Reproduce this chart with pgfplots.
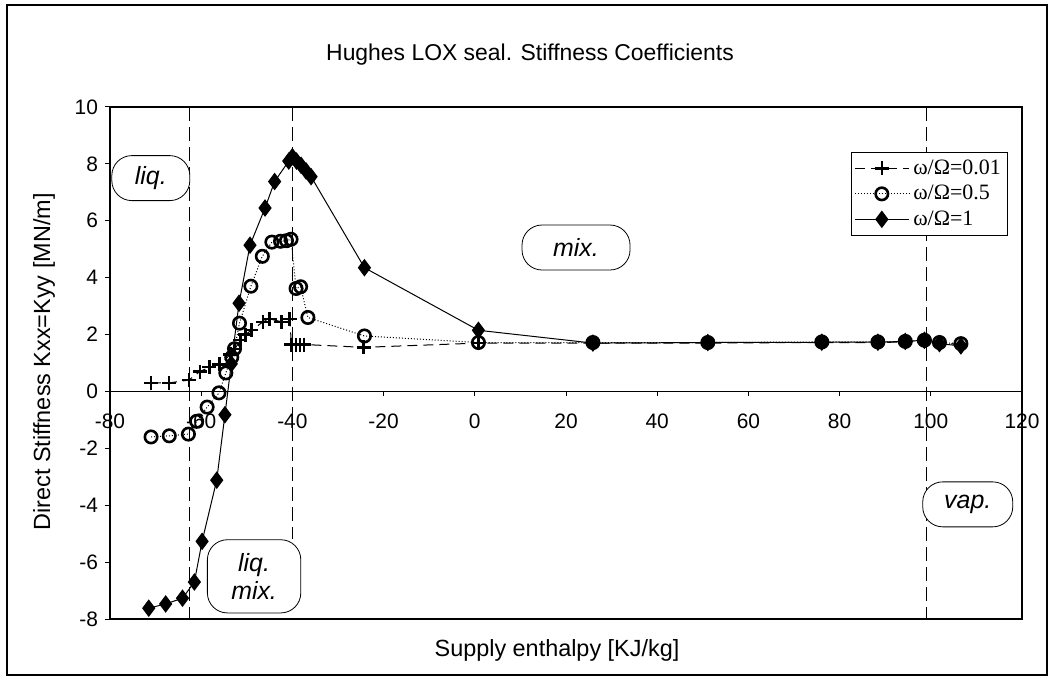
\documentclass[border=0pt]{standalone}
\usepackage{fontspec}
\setmainfont{Liberation Sans}
\newfontfamily\legfont{Liberation Serif}
\usepackage{pgfplots}
\pgfplotsset{compat=1.18}

\begin{document}
\begin{tikzpicture}
\begin{axis}[
  at={(0,0)}, anchor=south west,
  scale only axis, width=456bp, height=256bp,
  xmin=-80, xmax=120, ymin=-8, ymax=10,
  xtick={-80,-60,...,120}, ytick={-8,-6,...,10},
  axis x line*=middle, axis y line*=left,
  hide obscured x ticks=false, hide obscured y ticks=false,
  tick align=outside, major tick length=2.5bp,
  tick style={black, line width=0.5bp},
  axis line style={line width=0.6bp},
  /pgf/number format/assume math mode=true,
  ticklabel style={font=\fontsize{10.5}{12}\selectfont},
  xticklabel style={yshift=-5bp},
  clip=false,
  legend style={at={(rel axis cs:0.985,0.912)}, anchor=north east,
    draw=black, line width=0.5bp, fill=white,
    font=\legfont\fontsize{11}{11.5}\selectfont,
    inner sep=1.5bp, row sep=0pt},
  legend cell align=left,
  legend image code/.code={\draw[mark repeat=2,mark phase=2,#1]
    plot coordinates {(0bp,0bp) (13.5bp,0bp) (27bp,0bp)};},
]
\coordinate (O) at (rel axis cs:0,0);

% region boundaries
\draw[line width=0.5bp, dash pattern=on 7bp off 3bp] (axis cs:-62.5,10) -- (axis cs:-62.5,-8);
\draw[line width=0.5bp, dash pattern=on 7bp off 3bp] (axis cs:-40,10) -- (axis cs:-40,-5.2);
\draw[line width=0.5bp, dash pattern=on 7bp off 3bp] (axis cs:99,10) -- (axis cs:99,-8);
\draw[line width=0.6bp] (rel axis cs:0,0) rectangle (rel axis cs:1,1);

\addplot[black, line width=0.5bp, dash pattern=on 5bp off 3bp,
  mark=+, mark size=3.5bp, mark options={solid, line width=1.2bp}] coordinates {
(-71.0,0.30) (-67.0,0.30) (-62.7,0.40) (-60.3,0.70) (-58.2,0.85) (-56.0,0.95)
(-53.6,1.30) (-52.6,1.50) (-51.4,1.80) (-50.3,2.00) (-49.0,2.15) (-46.4,2.45)
(-45.0,2.55) (-42.4,2.45) (-40.6,2.55) (-40.2,1.65) (-39.2,1.65) (-38.3,1.65)
(-37.4,1.65) (-24.4,1.55) (0.8,1.70) (25.9,1.70) (51.1,1.70) (76.1,1.72)
(88.4,1.72) (94.4,1.74) (98.6,1.76) (101.9,1.70) (106.6,1.65)};
\addlegendentry{ω/Ω=0.01}

\addplot[black, line width=0.5bp, densely dotted,
  mark=o, mark size=3.1bp, mark options={solid, line width=1.3bp}] coordinates {
(-71.0,-1.60) (-67.0,-1.56) (-62.8,-1.50) (-61.0,-1.05) (-58.7,-0.55) (-56.1,-0.05)
(-54.6,0.65) (-53.3,1.20) (-52.7,1.50) (-51.6,2.40) (-49.1,3.70) (-46.6,4.75)
(-44.5,5.25) (-42.6,5.28) (-41.3,5.30) (-40.3,5.35) (-39.2,3.62) (-38.2,3.68)
(-36.6,2.60) (-24.2,1.95) (0.8,1.72) (25.9,1.72) (51.1,1.72) (76.1,1.74)
(88.4,1.74) (94.4,1.76) (98.6,1.80) (101.9,1.72) (106.6,1.68)};
\addlegendentry{ω/Ω=0.5}

\addplot[black, line width=0.5bp, solid,
  mark=diamond*, mark size=4bp, mark options={solid}] coordinates {
(-71.5,-7.62) (-67.8,-7.47) (-64.1,-7.27) (-61.5,-6.70) (-59.8,-5.27) (-56.6,-3.12)
(-54.8,-0.82) (-53.4,0.97) (-51.7,3.10) (-49.3,5.14) (-46.0,6.45) (-43.9,7.38)
(-40.8,8.10) (-40.0,8.25) (-39.1,8.10) (-38.1,7.95) (-37.0,7.75) (-35.9,7.55)
(-24.2,4.35) (0.8,2.15) (25.9,1.70) (51.1,1.72) (76.1,1.73) (88.4,1.73)
(94.4,1.76) (98.6,1.80) (101.9,1.68) (106.6,1.60)};
\addlegendentry{ω/Ω=1}

% region callouts
\tikzset{callout/.style={draw=black, fill=white, line width=0.4bp, rounded corners=10bp,
  inner sep=0pt, font=\itshape\fontsize{12.5}{14}\selectfont}}
\node[callout, minimum width=39bp, minimum height=22.5bp] at (axis cs:-71.05,7.5) {liq.};
\node[callout, minimum width=54bp, minimum height=22.5bp] at (axis cs:22.2,5.06) {mix.};
\node[callout, minimum width=45bp, minimum height=22.5bp] at (axis cs:108.1,-3.97) {vap.};
\node[callout, minimum width=46.7bp, minimum height=36.6bp, align=center] at (axis cs:-48.4,-6.5) {liq.\\mix.};
\end{axis}

\begin{scope}[shift={(O)}]
\node[font=\fontsize{11.5}{13}\selectfont] at (210bp,282bp) {Hughes LOX seal. Stiffness Coefficients};
\node[font=\fontsize{11.75}{13}\selectfont, rotate=90] at (-33bp,128.5bp) {Direct Stiffness Kxx=Kyy [MN/m]};
\node[font=\fontsize{11.75}{13}\selectfont] at (223.5bp,-15.5bp) {Supply enthalpy [KJ/kg]};
\draw[line width=0.6bp] (-51.5bp,-28bp) rectangle (468.5bp,307bp);
\pgfresetboundingbox
\path[use as bounding box] (-55bp,-35bp) rectangle (473bp,309.5bp);
\end{scope}
\end{tikzpicture}
\end{document}
